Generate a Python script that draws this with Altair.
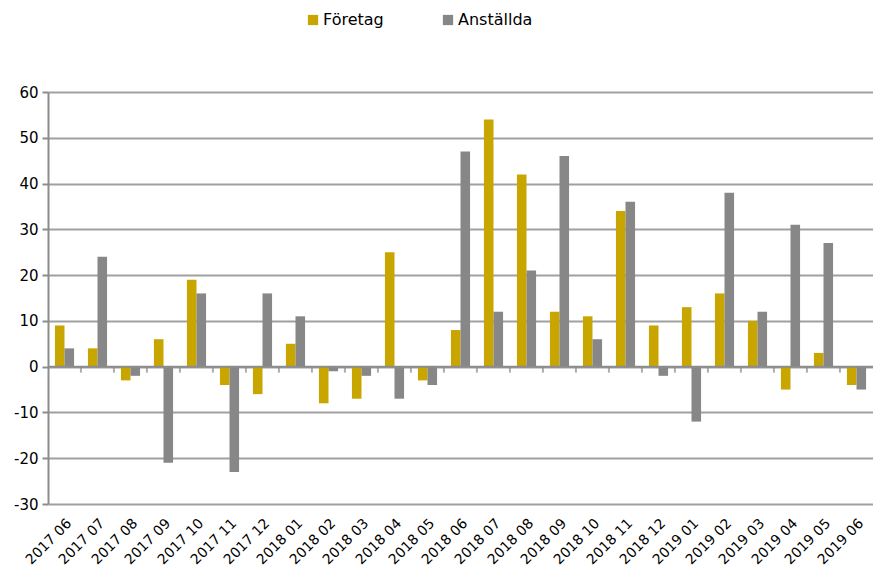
import altair as alt
import pandas as pd

months = ["2017 06", "2017 07", "2017 08", "2017 09", "2017 10", "2017 11", "2017 12",
          "2018 01", "2018 02", "2018 03", "2018 04", "2018 05", "2018 06", "2018 07",
          "2018 08", "2018 09", "2018 10", "2018 11", "2018 12", "2019 01", "2019 02",
          "2019 03", "2019 04", "2019 05", "2019 06"]
foretag = [9, 4, -3, 6, 19, -4, -6, 5, -8, -7, 25, -3, 8, 54, 42, 12, 11, 34, 9, 13, 16, 10, -5, 3, -4]
anstallda = [4, 24, -2, -21, 16, -23, 16, 11, -1, -2, -7, -4, 47, 12, 21, 46, 6, 36, -2, -12, 38, 12, 31, 27, -5]
series = ["Företag", "Anställda"]
colors = ["#C9A500", "#878787"]

rows = []
for m, f, a in zip(months, foretag, anstallda):
    rows.append({"month": m, "serie": series[0], "value": f})
    rows.append({"month": m, "serie": series[1], "value": a})
df = pd.DataFrame(rows)
ticks_df = pd.DataFrame({"month": months[1:]})

FONT = "DejaVu Sans"
W, H = 825, 412

xscale = alt.Scale(domain=months, paddingInner=0.42, paddingOuter=0.21)
yscale = alt.Scale(domain=[-30, 60], nice=False)

bars = alt.Chart(df).mark_bar().encode(
    x=alt.X("month:N", scale=xscale, sort=months,
            axis=alt.Axis(title=None, labelAngle=-45, labelFont=FONT, labelFontSize=14,
                          labelColor="#000000", domain=False, ticks=False, labelPadding=12)),
    xOffset=alt.XOffset("serie:N", sort=series, scale=alt.Scale(domain=series, paddingInner=0, paddingOuter=0)),
    y=alt.Y("value:Q", scale=yscale,
            axis=alt.Axis(title=None, values=list(range(-30, 61, 10)), labelFont=FONT,
                          labelFontSize=15, labelColor="#000000", domainColor="#8C8C8C",
                          domainWidth=2, tickColor="#8C8C8C", tickWidth=2, tickSize=6,
                          gridColor="#A0A0A0", gridWidth=2, labelPadding=4,
                          labelExpr="replace(datum.label, '\u2212', '-')")),
    color=alt.Color("serie:N", sort=series, scale=alt.Scale(domain=series, range=colors),
                    legend=alt.Legend(title=None, orient="none", direction="horizontal",
                                      legendX=257, legendY=-80, symbolType="square",
                                      symbolSize=105, symbolStrokeWidth=0, labelFont=FONT,
                                      labelFontSize=16, labelColor="#000000", labelOffset=2,
                                      columnPadding=56)),
)

zero = alt.Chart(pd.DataFrame({"v": [0]})).mark_rule(color="#8C8C8C", strokeWidth=2).encode(
    y=alt.Y("v:Q", scale=yscale)
)

ticks = alt.Chart(ticks_df).mark_tick(color="#8C8C8C", thickness=2, size=6, orient="vertical").encode(
    x=alt.X("month:N", scale=xscale, sort=months, bandPosition=0),
    xOffset=alt.value(-7),
    y=alt.datum(0, scale=yscale),
    yOffset=alt.value(3),
)

chart = alt.layer(bars, zero, ticks).properties(
    width=W, height=H,
    autosize=alt.AutoSizeParams(type="none"),
    padding={"left": 40, "top": 84, "right": 0, "bottom": 62},
).configure_view(stroke=None).configure_axisY(grid=True).configure_axisX(grid=False)

chart.save("out.html", embed_options={"renderer": "svg", "actions": False})
